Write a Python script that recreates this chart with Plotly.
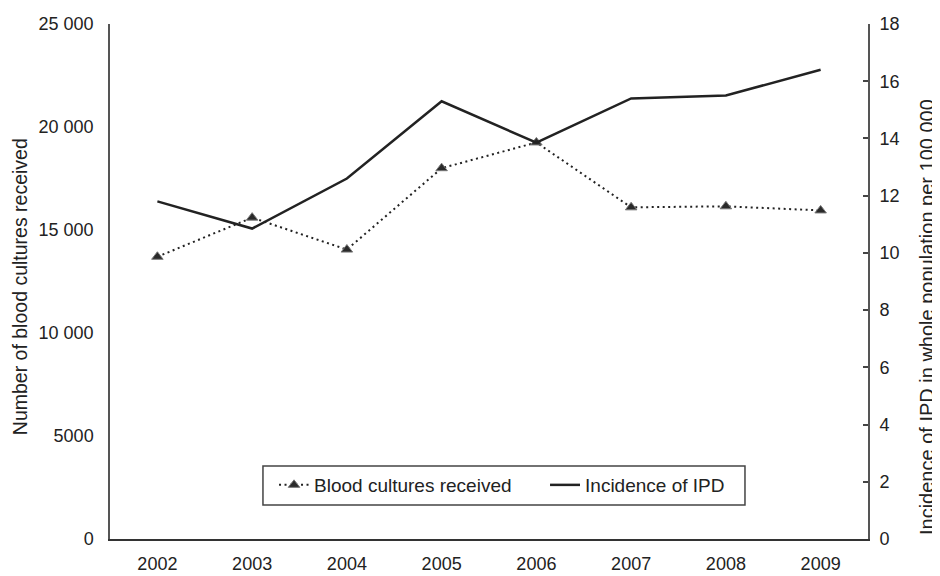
import plotly.graph_objects as go

years = ["2002", "2003", "2004", "2005", "2006", "2007", "2008", "2009"]
blood_cultures = [13700, 15600, 14050, 18000, 19250, 16100, 16150, 15950]
ipd_incidence = [11.8, 10.85, 12.6, 15.3, 13.85, 15.4, 15.5, 16.4]

left_tickvals = [0, 5000, 10000, 15000, 20000, 25000]
left_ticktext = ["0", "5000", "10 000", "15 000", "20 000", "25 000"]
right_tickvals = [0, 2, 4, 6, 8, 10, 12, 14, 16, 18]

FONT = "Liberation Sans, Arial, Helvetica, sans-serif"
INK = "#222222"

fig = go.Figure()
fig.add_trace(go.Scatter(
    x=years, y=blood_cultures, name="Blood cultures received",
    mode="lines+markers",
    line=dict(color=INK, width=2, dash="2px,3.5px"),
    marker=dict(symbol="triangle-up", size=10, color="#2a2a2a",
                line=dict(color="#777777", width=1)),
    yaxis="y",
))
fig.add_trace(go.Scatter(
    x=years, y=ipd_incidence, name="Incidence of IPD",
    mode="lines",
    line=dict(color=INK, width=2.5),
    yaxis="y2",
))

# page body has an 8px default margin, so the figure is sized to fit the window
fig.update_layout(
    width=932, height=568,
    margin=dict(l=102, r=72, t=16, b=37, autoexpand=False),
    paper_bgcolor="white", plot_bgcolor="white",
    font=dict(family=FONT, color=INK, size=18),
    showlegend=True,
    legend=dict(
        orientation="h", x=0.2164, y=0.1417, xanchor="left", yanchor="top",
        borderwidth=0, bgcolor="rgba(0,0,0,0)",
        font=dict(family=FONT, size=19, color=INK),
        entrywidth=226,
    ),
    shapes=[dict(type="rect", xref="paper", yref="paper",
                 x0=0.2018, x1=0.8377, y0=0.066, y1=0.1417,
                 line=dict(color="#444444", width=1.5), fillcolor="rgba(0,0,0,0)",
                 layer="above")],
    xaxis=dict(
        type="category", range=[-0.5, 7.5], automargin=False,
        showline=True, linecolor="#333333", linewidth=1.5,
        showgrid=False, zeroline=False, ticks="",
        tickfont=dict(family=FONT, size=18, color=INK),
        ticklabelstandoff=8,
    ),
    yaxis=dict(
        range=[0, 25000], tickvals=left_tickvals, ticktext=left_ticktext,
        automargin=False,
        showline=True, linecolor="#555555", linewidth=1.5,
        showgrid=False, zeroline=False, ticks="",
        tickfont=dict(family=FONT, size=18, color=INK),
        ticklabelstandoff=11,
    ),
    yaxis2=dict(
        range=[0, 18], tickvals=right_tickvals, automargin=False,
        overlaying="y", side="right", anchor="x",
        showline=True, linecolor="#555555", linewidth=2,
        showgrid=False, zeroline=False,
        ticks="inside", ticklen=5, tickwidth=1.5, tickcolor="#444444",
        tickfont=dict(family=FONT, size=18, color=INK),
        ticklabelstandoff=6,
    ),
    annotations=[
        dict(text="Number of blood cultures received", textangle=-90,
             xref="paper", yref="paper", x=-0.1187, y=0.489,
             xanchor="center", yanchor="middle", showarrow=False,
             font=dict(family=FONT, size=19.5, color=INK)),
        dict(text="Incidence of IPD in whole population per 100 000", textangle=-90,
             xref="paper", yref="paper", x=1.0778, y=0.431,
             xanchor="center", yanchor="middle", showarrow=False,
             font=dict(family=FONT, size=20, color=INK)),
    ],
)

fig.write_html("out.html")
